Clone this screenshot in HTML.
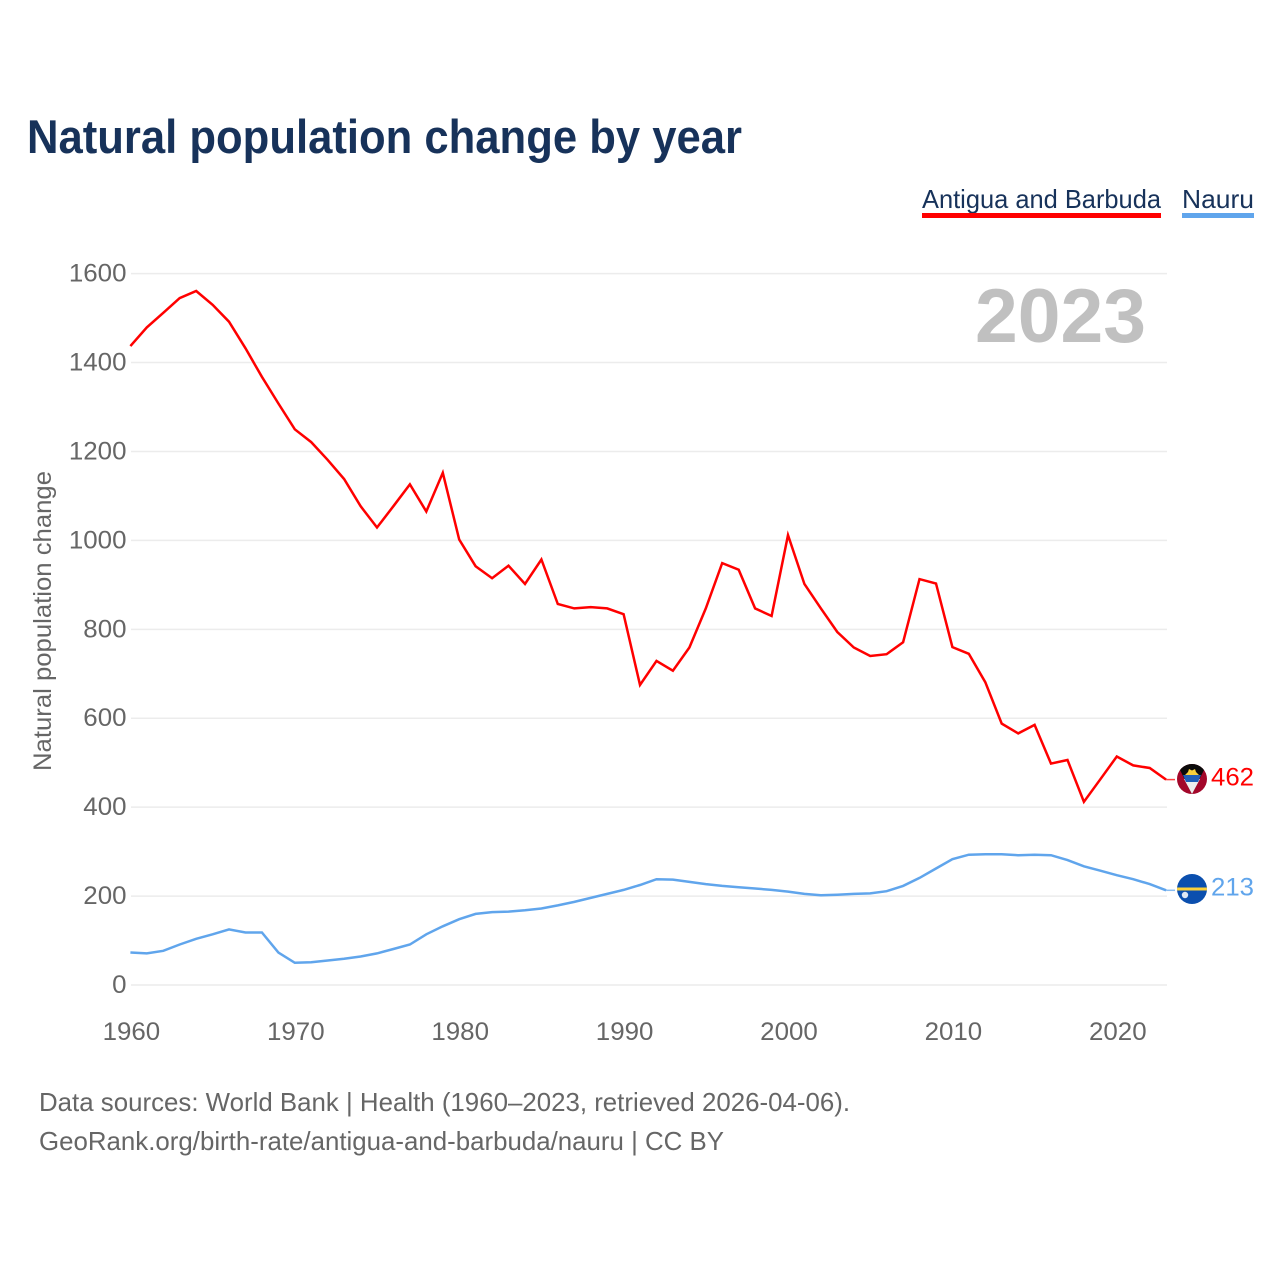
<!DOCTYPE html>
<html lang="en">
<head>
<meta charset="utf-8">
<title>Natural population change by year</title>
<style>
html,body{margin:0;padding:0;background:#fff;width:1280px;height:1280px;overflow:hidden}
svg{display:block}
text{font-family:"Liberation Sans",sans-serif}
</style>
</head>
<body>
<svg id="chart" xmlns="http://www.w3.org/2000/svg" width="1280" height="1280" viewBox="0 0 1280 1280">
  <rect width="1280" height="1280" fill="#fff"/>
  <text x="27" y="153" font-size="47" font-weight="700" fill="#17325a" textLength="715" lengthAdjust="spacingAndGlyphs">Natural population change by year</text>
  <g>
    <text x="922" y="208" font-size="26" fill="#17325a" textLength="239" lengthAdjust="spacingAndGlyphs">Antigua and Barbuda</text>
    <rect x="922" y="213" width="239" height="5" fill="#ff0000"/>
  </g>
  <g>
    <text x="1182" y="208" font-size="26" fill="#17325a" textLength="72" lengthAdjust="spacingAndGlyphs">Nauru</text>
    <rect x="1182" y="213" width="72" height="5" fill="#60a5ec"/>
  </g>
  <g id="grid"></g>
  <g id="yticks"></g>
  <g id="xticks"></g>
  <text x="975" y="342" font-size="76" font-weight="700" fill="#c0c0c0" textLength="171" lengthAdjust="spacingAndGlyphs">2023</text>
  <text transform="translate(51,621) rotate(-90)" text-anchor="middle" font-size="25" fill="#666" textLength="300" lengthAdjust="spacingAndGlyphs">Natural population change</text>
  <g id="series"></g>
  <defs>
    <clipPath id="clip-ag"><circle cx="1192" cy="779" r="15"/></clipPath>
    <clipPath id="clip-nr"><circle cx="1192" cy="889" r="15"/></clipPath>
  </defs>
  <g clip-path="url(#clip-ag)">
    <rect x="1177" y="764" width="30" height="30" fill="#a3072a"/>
    <polygon points="1177,764 1207,764 1192,794" fill="#0b0b0b"/>
    <polygon points="1184,779 1200,779 1192,794" fill="#eeeeee"/>
    <polygon points="1183,775 1201,775 1198,782 1186,782" fill="#1f5fb8"/>
    <path d="M1185,775 L1188,772 L1189,769 L1192,770.5 L1195,769 L1196,772 L1199,775 Z" fill="#f6cf3c"/>
  </g>
  <g clip-path="url(#clip-nr)">
    <rect x="1177" y="874" width="30" height="30" fill="#0b4fae"/>
    <rect x="1177" y="887.5" width="30" height="3" fill="#fbd13a"/>
    <circle cx="1185" cy="895" r="3.2" fill="#dfe8f5"/>
  </g>
  <text x="1211" y="785.5" font-size="25" fill="#ff0000" textLength="43" lengthAdjust="spacingAndGlyphs">462</text>
  <text x="1211" y="895.5" font-size="25" fill="#60a5ec" textLength="43" lengthAdjust="spacingAndGlyphs">213</text>
  <text x="39" y="1111" font-size="26" fill="#666" textLength="811" lengthAdjust="spacingAndGlyphs">Data sources: World Bank | Health (1960–2023, retrieved 2026-04-06).</text>
  <text x="39" y="1150" font-size="26" fill="#666" textLength="685" lengthAdjust="spacingAndGlyphs">GeoRank.org/birth-rate/antigua-and-barbuda/nauru | CC BY</text>
</svg>
<script>
const startYear = 1960;
const antiguaValues = [1437,1479,1512,1545,1561,1530,1492,1432,1368,1308,1250,1221,1181,1138,1077,1029,1077,1126,1065,1152,1002,942,915,943,902,957,857,847,850,847,834,675,729,707,759,847,949,934,847,830,1012,902,847,794,759,740,744,771,913,903,760,745,681,588,566,585,498,506,412,463,514,494,488,462];
const nauruValues = [73,71,77,91,104,114,125,118,118,73,50,51,55,59,64,71,81,91,114,132,148,160,164,165,168,172,179,187,196,205,214,225,238,237,232,227,223,220,217,214,210,205,202,203,205,206,211,223,241,262,283,293,294,294,292,293,292,281,267,257,247,238,227,213];
const yTicks = [0,200,400,600,800,1000,1200,1400,1600];
const xTicks = [1960,1970,1980,1990,2000,2010,2020];

const NS = 'http://www.w3.org/2000/svg';
function xScale(year){ return 130.4 + (year - 1960) * 16.44; }
function yScale(value){ return 985 - value * 0.4446; }

const gridGroup = document.getElementById('grid');
const yTickGroup = document.getElementById('yticks');
const xTickGroup = document.getElementById('xticks');
const seriesGroup = document.getElementById('series');

yTicks.forEach(function(tick){
  const line = document.createElementNS(NS, 'line');
  
  
  line.setAttribute('x1', 131);
  line.setAttribute('x2', 1167);
  line.setAttribute('y1', yScale(tick));
  line.setAttribute('y2', yScale(tick));
  line.setAttribute('stroke', '#ececec');
  line.setAttribute('stroke-width', 1.5);
  gridGroup.appendChild(line);

  const label = document.createElementNS(NS, 'text');
  
  
  label.setAttribute('x', 126.5);
  label.setAttribute('y', yScale(tick) + 8);
  label.setAttribute('text-anchor', 'end');
  label.setAttribute('font-size', 25);
  label.setAttribute('fill', '#666');
  label.setAttribute('textLength', String(tick).length * 14.4);
  label.setAttribute('lengthAdjust', 'spacingAndGlyphs');
  label.textContent = tick;
  yTickGroup.appendChild(label);
});

xTicks.forEach(function(tick){
  const label = document.createElementNS(NS, 'text');
  
  
  label.setAttribute('x', xScale(tick) + 1);
  label.setAttribute('y', 1040);
  label.setAttribute('text-anchor', 'middle');
  label.setAttribute('font-size', 25);
  label.setAttribute('fill', '#666');
  label.setAttribute('textLength', 57.6);
  label.setAttribute('lengthAdjust', 'spacingAndGlyphs');
  label.textContent = tick;
  xTickGroup.appendChild(label);
});

function pathFor(values){
  return values.map(function(v, i){
    return (i ? 'L' : 'M') + xScale(startYear + i).toFixed(1) + ',' + yScale(v).toFixed(1);
  }).join(' ');
}

function drawStub(values, color){
  const last = values[values.length - 1];
  const stub = document.createElementNS(NS, 'line');
  
  
  stub.setAttribute('x1', xScale(startYear + values.length - 1));
  stub.setAttribute('x2', 1175);
  stub.setAttribute('y1', yScale(last));
  stub.setAttribute('y2', yScale(last));
  stub.setAttribute('stroke', color);
  stub.setAttribute('stroke-width', 1.5);
  stub.setAttribute('stroke-opacity', 0.75);
  seriesGroup.appendChild(stub);
}

const antiguaLine = document.createElementNS(NS, 'path');


antiguaLine.setAttribute('d', pathFor(antiguaValues));
antiguaLine.setAttribute('fill', 'none');
antiguaLine.setAttribute('stroke', '#ff0000');
antiguaLine.setAttribute('stroke-width', 2.5);
seriesGroup.appendChild(antiguaLine);
drawStub(antiguaValues, '#ff0000');

const nauruLine = document.createElementNS(NS, 'path');


nauruLine.setAttribute('d', pathFor(nauruValues));
nauruLine.setAttribute('fill', 'none');
nauruLine.setAttribute('stroke', '#60a5ec');
nauruLine.setAttribute('stroke-width', 2.5);
seriesGroup.appendChild(nauruLine);
drawStub(nauruValues, '#60a5ec');
</script>
</body>
</html>
